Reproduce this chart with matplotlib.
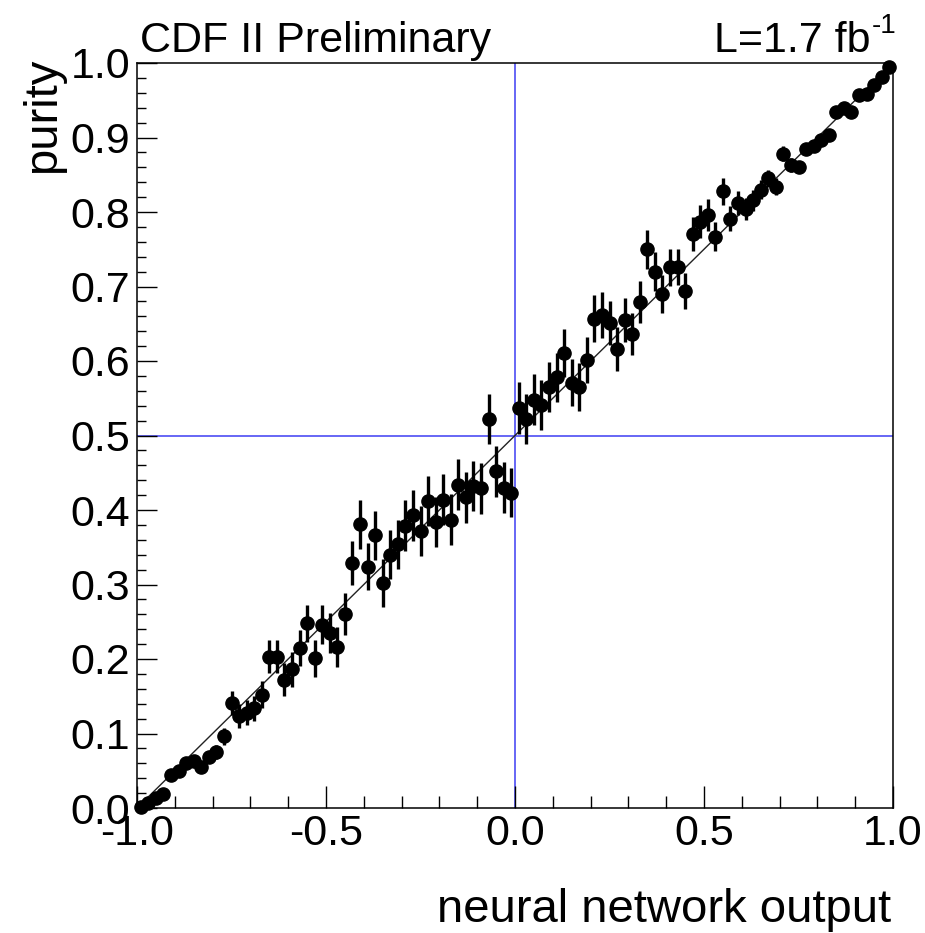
import matplotlib
matplotlib.use("Agg")
import matplotlib.pyplot as plt
from matplotlib.ticker import MultipleLocator

plt.rcParams['font.family'] = ['Liberation Sans', 'DejaVu Sans']
plt.rcParams['axes.unicode_minus'] = False

# ---- data ----
nn_output = [-0.99, -0.97, -0.95, -0.93, -0.91, -0.89, -0.87, -0.85, -0.83, -0.81,
             -0.79, -0.77, -0.75, -0.73, -0.71, -0.69, -0.67, -0.65, -0.63, -0.61,
             -0.59, -0.57, -0.55, -0.53, -0.51, -0.49, -0.47, -0.45, -0.43, -0.41,
             -0.39, -0.37, -0.35, -0.33, -0.31, -0.29, -0.27, -0.25, -0.23, -0.21,
             -0.19, -0.17, -0.15, -0.13, -0.11, -0.09, -0.07, -0.05, -0.03, -0.01,
             0.01, 0.03, 0.05, 0.07, 0.09, 0.11, 0.13, 0.15, 0.17, 0.19,
             0.21, 0.23, 0.25, 0.27, 0.29, 0.31, 0.33, 0.35, 0.37, 0.39,
             0.41, 0.43, 0.45, 0.47, 0.49, 0.51, 0.53, 0.55, 0.57, 0.59,
             0.61, 0.63, 0.65, 0.67, 0.69, 0.71, 0.73, 0.75, 0.77, 0.79,
             0.81, 0.83, 0.85, 0.87, 0.89, 0.91, 0.93, 0.95, 0.97, 0.99]

purity = [0.002, 0.007, 0.013, 0.019, 0.044, 0.049, 0.060, 0.063, 0.055, 0.069,
          0.075, 0.096, 0.141, 0.123, 0.128, 0.134, 0.152, 0.203, 0.203, 0.172,
          0.186, 0.215, 0.248, 0.201, 0.246, 0.235, 0.216, 0.260, 0.329, 0.381,
          0.324, 0.366, 0.302, 0.340, 0.354, 0.379, 0.393, 0.372, 0.412, 0.384,
          0.414, 0.387, 0.434, 0.417, 0.432, 0.429, 0.522, 0.452, 0.430, 0.423,
          0.537, 0.522, 0.548, 0.541, 0.565, 0.578, 0.611, 0.571, 0.565, 0.601,
          0.657, 0.662, 0.651, 0.616, 0.655, 0.636, 0.679, 0.750, 0.720, 0.690,
          0.726, 0.726, 0.694, 0.770, 0.787, 0.796, 0.767, 0.828, 0.791, 0.812,
          0.804, 0.816, 0.830, 0.845, 0.834, 0.878, 0.863, 0.861, 0.885, 0.888,
          0.897, 0.903, 0.934, 0.939, 0.934, 0.957, 0.959, 0.970, 0.981, 0.994]

purity_err = [0.003, 0.003, 0.004, 0.005, 0.006, 0.006, 0.007, 0.007, 0.007, 0.008,
              0.009, 0.011, 0.016, 0.016, 0.017, 0.017, 0.018, 0.022, 0.022, 0.022,
              0.023, 0.024, 0.025, 0.025, 0.026, 0.027, 0.027, 0.028, 0.030, 0.033,
              0.032, 0.033, 0.032, 0.033, 0.033, 0.034, 0.034, 0.034, 0.034, 0.034,
              0.034, 0.034, 0.034, 0.034, 0.034, 0.034, 0.034, 0.034, 0.034, 0.033,
              0.035, 0.034, 0.034, 0.034, 0.033, 0.033, 0.032, 0.032, 0.032, 0.031,
              0.031, 0.031, 0.030, 0.029, 0.029, 0.028, 0.028, 0.026, 0.026, 0.025,
              0.025, 0.024, 0.024, 0.023, 0.022, 0.021, 0.020, 0.018, 0.017, 0.016,
              0.015, 0.014, 0.013, 0.012, 0.011, 0.010, 0.009, 0.008, 0.007, 0.007,
              0.006, 0.006, 0.005, 0.005, 0.004, 0.004, 0.003, 0.003, 0.002, 0.002]

fit_x = [-1.0, 1.0]
fit_slope = 0.5
fit_intercept = 0.5

x_ticklabels = ["-1.0", "-0.5", "0.0", "0.5", "1.0"]
y_ticklabels = ["0.0", "0.1", "0.2", "0.3", "0.4", "0.5", "0.6", "0.7", "0.8", "0.9", "1.0"]

# ---- figure ----
W, H = 925, 933
fig = plt.figure(figsize=(W / 100, H / 100), dpi=100)
ax = fig.add_axes([137 / W, 1 - 808 / H, (893 - 137) / W, (808 - 63) / H])

blue = '#5a5af5'
ax.axvline(0.0, color=blue, lw=1.3, zorder=1)
ax.axhline(0.5, color=blue, lw=1.3, zorder=1)

fit_y = [fit_slope * v + fit_intercept for v in fit_x]
ax.plot(fit_x, fit_y, color='#222222', lw=1.0, zorder=2)

ax.errorbar(nn_output, purity, yerr=purity_err, fmt='o', color='black',
            markersize=9.5, elinewidth=2.4, capsize=0, zorder=3, clip_on=False)

ax.set_xlim(-1.0, 1.0)
ax.set_ylim(0.0, 1.0)

ax.xaxis.set_minor_locator(MultipleLocator(0.1))
ax.yaxis.set_minor_locator(MultipleLocator(0.02))
ax.set_xticks([-1.0, -0.5, 0.0, 0.5, 1.0])
ax.set_xticklabels(x_ticklabels)
ax.set_yticks([0.0, 0.1, 0.2, 0.3, 0.4, 0.5, 0.6, 0.7, 0.8, 0.9, 1.0])
ax.set_yticklabels(y_ticklabels)

ax.tick_params(axis='both', which='both', direction='in', top=False, right=False,
               width=1.0, labelsize=31, colors='black')
ax.tick_params(axis='x', which='major', length=16, pad=4)
ax.tick_params(axis='x', which='minor', length=8.5)
ax.tick_params(axis='y', which='major', length=14.5, pad=5)
ax.tick_params(axis='y', which='minor', length=6.5)
for s in ax.spines.values():
    s.set_linewidth(1.1)

fig.text(140 / W, 1 - 52 / H, "CDF II Preliminary", fontsize=31,
         ha='left', va='baseline')
fig.text(871 / W, 1 - 52 / H, "L=1.7 fb", fontsize=31,
         ha='right', va='baseline')
fig.text(872 / W, 1 - 33 / H, "-1", fontsize=20,
         ha='left', va='baseline')
fig.text(891 / W, 1 - 922 / H, "neural network output", fontsize=34,
         ha='right', va='baseline')
fig.text(43 / W, 1 - 58 / H, "purity", fontsize=34, rotation=90,
         ha='center', va='top')

fig.savefig("out.png", dpi=100)
